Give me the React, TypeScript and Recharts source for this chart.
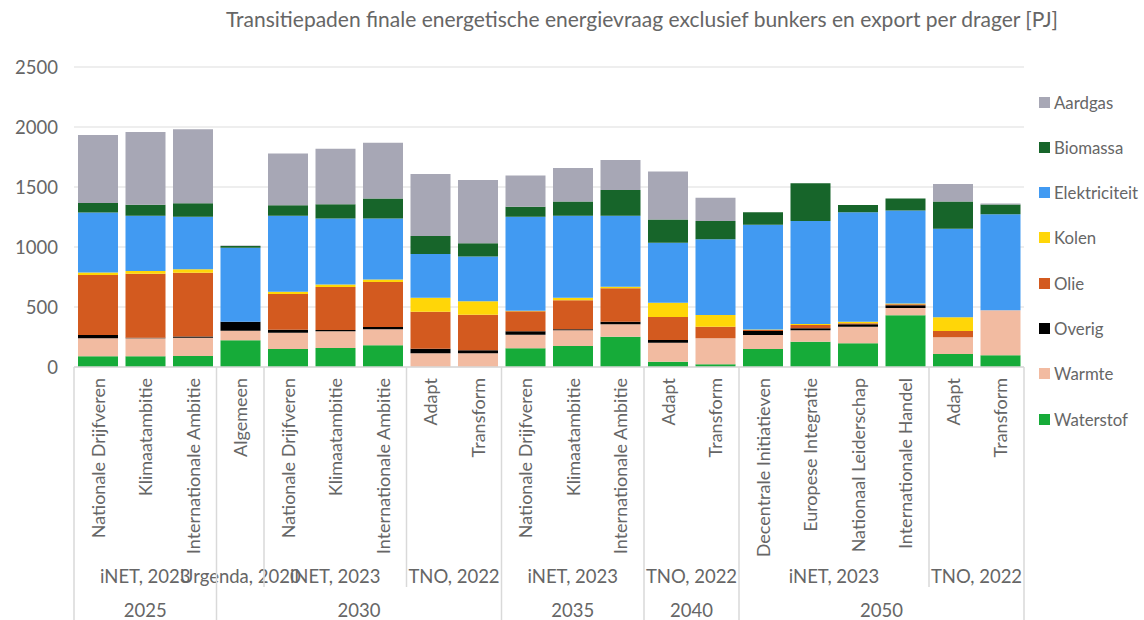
import React from 'react';
import { BarChart, Bar, XAxis, YAxis, CartesianGrid } from 'recharts';

const scenarios = [
  'Nationale Drijfveren', 'Klimaatambitie', 'Internationale Ambitie',
  'Algemeen', 'Nationale Drijfveren', 'Klimaatambitie', 'Internationale Ambitie', 'Adapt', 'Transform',
  'Nationale Drijfveren', 'Klimaatambitie', 'Internationale Ambitie',
  'Adapt', 'Transform',
  'Decentrale Initiatieven', 'Europese Integratie', 'Nationaal Leiderschap', 'Internationale Handel', 'Adapt', 'Transform',
];
const sources = [
  'iNET, 2023', 'iNET, 2023', 'iNET, 2023',
  'Urgenda, 2020', 'iNET, 2023', 'iNET, 2023', 'iNET, 2023', 'TNO, 2022', 'TNO, 2022',
  'iNET, 2023', 'iNET, 2023', 'iNET, 2023',
  'TNO, 2022', 'TNO, 2022',
  'iNET, 2023', 'iNET, 2023', 'iNET, 2023', 'iNET, 2023', 'TNO, 2022', 'TNO, 2022',
];
const years = [
  '2025', '2025', '2025',
  '2030', '2030', '2030', '2030', '2030', '2030',
  '2035', '2035', '2035',
  '2040', '2040',
  '2050', '2050', '2050', '2050', '2050', '2050',
];

const waterstof = [89, 89, 92, 222, 150, 158, 181, 0, 0, 156, 175, 253, 44, 22, 150, 211, 197, 431, 108, 97];
const warmte = [150, 150, 152, 80, 136, 139, 133, 114, 114, 113, 131, 103, 158, 217, 117, 95, 138, 61, 139, 375];
const overig = [27, 5, 11, 75, 25, 11, 19, 38, 25, 28, 8, 22, 22, 0, 33, 17, 22, 22, 0, 0];
const olie = [500, 533, 531, 0, 297, 358, 375, 308, 297, 167, 242, 278, 192, 97, 8, 28, 8, 8, 53, 0];
const kolen = [22, 22, 28, 0, 20, 22, 22, 117, 112, 5, 22, 13, 119, 97, 5, 8, 13, 8, 114, 0];
const elektriciteit = [500, 462, 439, 617, 633, 550, 508, 364, 372, 783, 683, 592, 500, 631, 873, 858, 912, 775, 738, 800];
const biomassa = [78, 92, 111, 14, 86, 119, 167, 150, 111, 83, 119, 214, 195, 152, 103, 314, 61, 100, 228, 83];
const aardgas = [567, 605, 617, 5, 433, 461, 464, 517, 528, 261, 278, 250, 400, 194, 0, 0, 0, 0, 144, 8];

const yTicks = [0, 500, 1000, 1500, 2000, 2500];

// bottom-to-top stacking order
const series = [
  { key: 'Waterstof', values: waterstof, color: '#16AB39' },
  { key: 'Warmte', values: warmte, color: '#F2BBA1' },
  { key: 'Overig', values: overig, color: '#000000' },
  { key: 'Olie', values: olie, color: '#D35A1F' },
  { key: 'Kolen', values: kolen, color: '#FFD608' },
  { key: 'Elektriciteit', values: elektriciteit, color: '#419AF2' },
  { key: 'Biomassa', values: biomassa, color: '#17652A' },
  { key: 'Aardgas', values: aardgas, color: '#A7A7B5' },
];

const data = scenarios.map((name, i) => {
  const row: Record<string, any> = { name, idx: i };
  series.forEach((s) => { row[s.key] = s.values[i]; });
  return row;
});

const W = 1144;
const H = 620;
const MARGIN = { top: 67, right: 120, bottom: 0, left: 0 };
const Y_W = 74;
const X_H = 253;
const BW = (W - MARGIN.right - MARGIN.left - Y_W) / scenarios.length;
const FONT = 'Lato, "Noto Sans", sans-serif';
const TXT = '#666666';
const SEP = '#d9d9d9';

const srcKey = (k: number) => years[k] + '|' + sources[k];

const XTick = (props: any) => {
  const { x, y, payload } = props;
  const i: number = payload.index;
  const n = scenarios.length;
  const els: React.ReactNode[] = [];
  els.push(
    <text key="n" transform={`translate(${x},${y + 11}) rotate(-90)`} textAnchor="end" dominantBaseline="central"
      fontSize={18} fill={TXT} fontFamily={FONT}>{scenarios[i]}</text>
  );
  const yearStart = i === 0 || years[i] !== years[i - 1];
  const srcStart = i === 0 || srcKey(i) !== srcKey(i - 1);
  if (srcStart) {
    let len = 1;
    while (i + len < n && srcKey(i + len) === srcKey(i)) len++;
    els.push(
      <text key="s" x={x + ((len - 1) / 2) * BW} y={y + 209} textAnchor="middle" dominantBaseline="central"
        fontSize={18.5} fill={TXT} fontFamily={FONT}>{sources[i]}</text>
    );
    els.push(<line key="sl" x1={x - BW / 2} x2={x - BW / 2} y1={y} y2={yearStart ? y + 253 : y + 220} stroke={SEP} strokeWidth={1.5} />);
  }
  if (yearStart) {
    let len = 1;
    while (i + len < n && years[i + len] === years[i]) len++;
    els.push(
      <text key="y" x={x + ((len - 1) / 2) * BW} y={y + 243} textAnchor="middle" dominantBaseline="central"
        fontSize={18.5} fill={TXT} fontFamily={FONT}>{years[i]}</text>
    );
  }
  if (i === n - 1) {
    els.push(<line key="r" x1={x + BW / 2} x2={x + BW / 2} y1={y} y2={y + 253} stroke={SEP} strokeWidth={1.5} />);
  }
  return <g>{els}</g>;
};

const legendItems = [...series].reverse();

export default function App() {
  return (
    <div style={{ position: 'absolute', left: 0, top: 0, width: W, height: H, background: '#fff', fontFamily: FONT }}>
      <div style={{ position: 'absolute', left: 0, width: 1284, top: 6, textAlign: 'center', fontSize: 21, color: TXT, whiteSpace: 'nowrap' }}>
        Transitiepaden finale energetische energievraag exclusief bunkers en export per drager [PJ]
      </div>
      <BarChart width={W} height={H} data={data} margin={MARGIN} barSize={40}>
        <CartesianGrid vertical={false} stroke="#e8e8e8" strokeWidth={1.5} />
        <YAxis width={Y_W} domain={[0, 2500]} ticks={yTicks} axisLine={false} tickLine={false} tickSize={0} tickMargin={16}
          tick={{ fontSize: 18.5, fill: TXT, fontFamily: FONT }} interval={0} />
        <XAxis dataKey="idx" height={X_H} interval={0} tickLine={false} tickSize={0} tickMargin={0}
          axisLine={{ stroke: SEP, strokeWidth: 1.5 }} tick={<XTick />} />
        {series.map((s) => (
          <Bar key={s.key} dataKey={s.key} stackId="a" fill={s.color} isAnimationActive={false} />
        ))}
      </BarChart>
      <div style={{ position: 'absolute', left: 1039, top: 92 }}>
        {legendItems.map((s) => (
          <div key={s.key} style={{ display: 'flex', alignItems: 'center', height: 20, marginBottom: 25.3, fontSize: 16.8, color: TXT }}>
            <span style={{ display: 'inline-block', width: 11, height: 11, background: s.color, marginRight: 4 }} />
            {s.key}
          </div>
        ))}
      </div>
    </div>
  );
}
